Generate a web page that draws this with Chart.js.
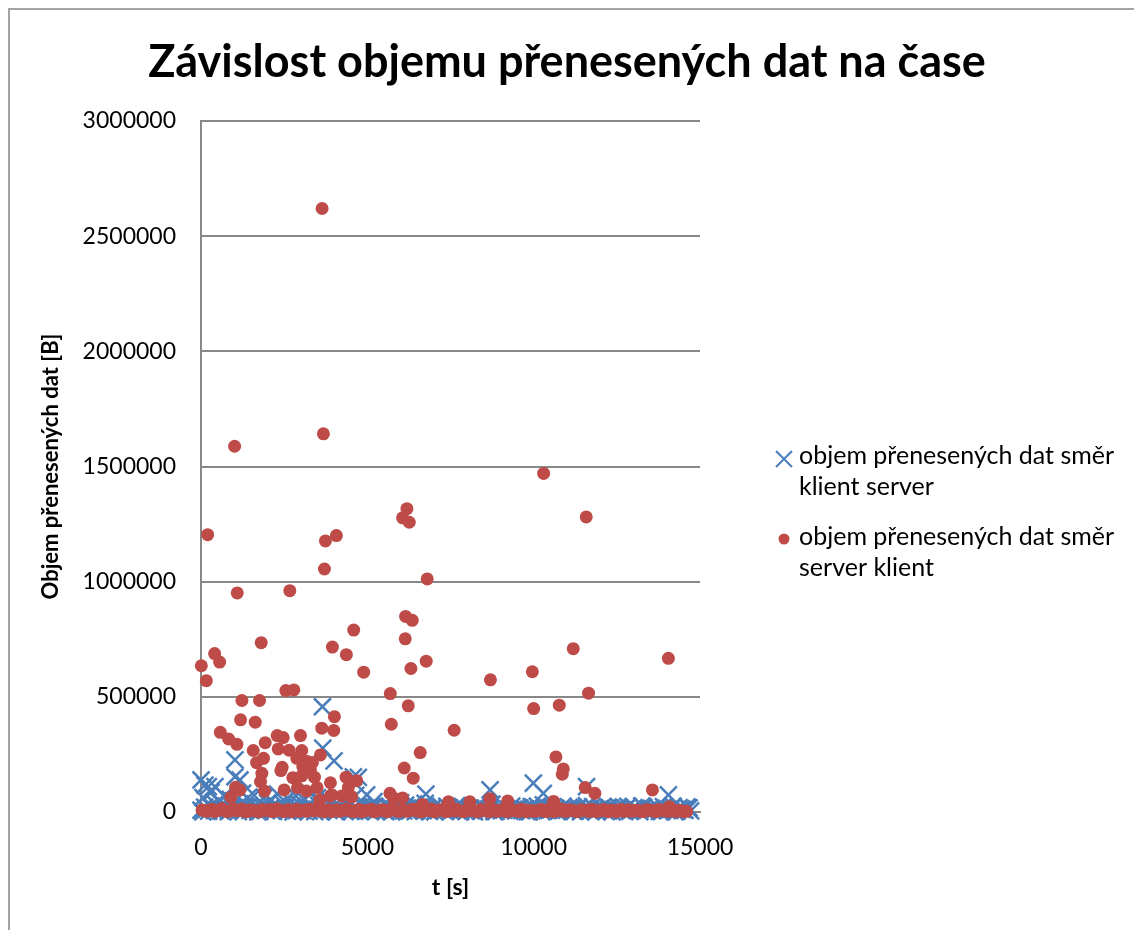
<!DOCTYPE html>
<html>
<head>
<meta charset="utf-8">
<title>Závislost objemu přenesených dat na čase</title>
<script src="https://cdn.jsdelivr.net/npm/chart.js@4.4.0/dist/chart.umd.min.js"></script>
<style>
  html, body { margin: 0; padding: 0; background: #fff; overflow: hidden; }
  #ramecek { position: absolute; left: 8px; top: 8px; width: 1140px; height: 940px;
             border-left: 2px solid #a3a3a3; border-top: 2px solid #a3a3a3; }
  #graf { position: absolute; left: 0; top: 0; }
</style>
</head>
<body>
<div id="ramecek"></div>
<canvas id="graf" width="1134" height="930"></canvas>
<script>
// popisky
const nadpis = 'Závislost objemu přenesených dat na čase';
const osaX = 't [s]';
const osaY = 'Objem přenesených dat [B]';
const nazvySerii = ['objem přenesených dat směr klient server', 'objem přenesených dat směr server klient'];
const legendaRadky = [['objem přenesených dat směr', 'klient server'], ['objem přenesených dat směr', 'server klient']];
const xPopisky = ['0', '5000', '10000', '15000'];
const yPopisky = ['0', '500000', '1000000', '1500000', '2000000', '2500000', '3000000'];

// klient -> server: vyssi hodnoty [t, B]
const klientServerVyssi = [
  [3650,457000],[3660,277000],[1020,226000],[4000,222000],[1020,153000],[4580,153000],[4730,150000],
  [0,139000],[1170,139000],[120,117000],[220,110000],[420,110000],[4980,74000],[6760,78000],
  [8690,96000],[9990,125000],[10290,81000],[11590,110000],[14050,74000],
  [60,62000],[300,85000],[520,48000],[700,70000],[880,55000],[1250,82000],[1400,60000],[1600,72000],
  [1900,65000],[2100,52000],[2300,78000],[2600,60000],[2850,70000],[3100,55000],[3300,80000],
  [3500,62000],[3800,58000],[4100,66000],[4400,50000],[4650,72000],[5200,45000],[6000,40000],[6400,35000]
];
// klient -> server: hodnoty u nuly
const klientServerPas = [
  [0,8000],[110,21000],[230,4000],[350,15000],[460,30000],[580,6000],[700,18000],[820,2000],[940,26000],
  [1060,11000],[1180,35000],[1290,5000],[1410,19000],[1530,9000],[1650,28000],[1770,3000],[1890,16000],
  [2000,40000],[2120,7000],[2240,22000],[2360,12000],[2480,33000],[2600,4000],[2710,20000],[2830,10000],
  [2950,36000],[3070,6000],[3190,24000],[3310,14000],[3420,2000],[3540,29000],[3660,9000],[3780,18000],
  [3900,42000],[4020,5000],[4130,23000],[4250,13000],[4370,31000],[4490,3000],[4610,19000],[4730,8000],
  [4840,27000],[4960,12000],[5080,4000],[5200,21000],[5320,9000],[5440,15000],[5550,2000],[5670,25000],
  [5790,7000],[5910,17000],[6030,11000],[6150,30000],[6260,4000],[6380,20000],[6500,8000],[6620,14000],
  [6740,38000],[6860,3000],[6970,18000],[7090,10000],[7210,24000],[7330,5000],[7450,15000],[7570,9000],
  [7680,28000],[7800,2000],[7920,19000],[8040,12000],[8160,6000],[8280,22000],[8390,4000],[8510,16000],
  [8630,10000],[8750,34000],[8870,3000],[8990,20000],[9100,8000],[9220,13000],[9340,26000],[9460,5000],
  [9580,17000],[9700,11000],[9810,2000],[9930,23000],[10050,9000],[10170,15000],[10290,31000],[10410,6000],
  [10520,19000],[10640,12000],[10760,4000],[10880,25000],[11000,8000],[11120,16000],[11230,3000],
  [11350,21000],[11470,10000],[11590,28000],[11710,5000],[11830,14000],[11940,9000],[12060,20000],
  [12180,2000],[12300,17000],[12420,11000],[12540,24000],[12650,6000],[12770,15000],[12890,3000],
  [13010,19000],[13130,9000],[13250,27000],[13360,5000],[13480,13000],[13600,8000],[13720,22000],
  [13840,2000],[13960,16000],[14070,10000],[14190,25000],[14310,4000],[14430,14000],[14550,7000],[14670,18000]
];
const klientServerPas2 = [
  [55,1000],[170,13000],[290,24000],[405,6000],[520,17000],[640,3000],[760,25000],[880,10000],[1000,19000],
  [1120,2000],[1235,14000],[1350,23000],[1470,7000],[1590,16000],[1710,1000],[1830,21000],[1945,9000],
  [2060,15000],[2180,3000],[2300,26000],[2420,6000],[2540,18000],[2655,11000],[2770,1000],[2890,22000],
  [3010,8000],[3130,16000],[3250,4000],[3365,20000],[3480,12000],[3600,2000],[3720,24000],[3840,7000],
  [3960,15000],[4075,1000],[4190,19000],[4310,9000],[4430,22000],[4550,5000],[4670,14000],[4785,2000],
  [4900,18000],[5020,10000],[5140,24000],[5260,3000],[5380,16000],[5495,7000],[5610,20000],[5730,1000],
  [5850,12000],[5970,23000],[6090,5000],[6205,17000],[6320,9000],[6440,2000],[6560,21000],[6680,6000],
  [6800,14000],[6915,11000],[7030,1000],[7150,19000],[7270,8000],[7390,24000],[7510,3000],[7625,15000],
  [7740,10000],[7860,22000],[7980,4000],[8100,17000],[8220,1000],[8335,13000],[8450,20000],[8570,6000],
  [8690,15000],[8810,2000],[8930,23000],[9045,9000],[9160,18000],[9280,3000],[9400,12000],[9520,21000],
  [9640,6000],[9755,14000],[9870,1000],[9990,17000],[10110,25000],[10230,4000],[10350,13000],[10465,8000],
  [10580,22000],[10700,2000],[10820,16000],[10940,11000],[11060,20000],[11175,5000],[11290,13000],
  [11410,1000],[11530,18000],[11650,9000],[11770,23000],[11885,3000],[12000,15000],[12120,7000],
  [12240,21000],[12360,1000],[12480,12000],[12595,18000],[12710,5000],[12830,24000],[12950,9000],
  [13070,14000],[13190,2000],[13305,20000],[13420,7000],[13540,16000],[13660,11000],[13780,3000],
  [13900,23000],[14015,6000],[14130,15000],[14250,1000],[14370,19000],[14490,10000],[14610,22000],[14720,5000]
];

// server -> klient: vyssi hodnoty [t, B]
const serverKlientVyssi = [
  [3640,2620000],[1010,1588000],[3680,1642000],[10300,1470000],[11580,1281000],[200,1204000],[3740,1177000],
  [4070,1200000],[3710,1055000],[6190,1317000],[6060,1277000],[6260,1258000],[6800,1012000],[1090,951000],
  [2670,961000],[6150,849000],[6350,832000],[4590,790000],[6140,752000],[1810,735000],[3950,716000],
  [4370,683000],[410,688000],[560,651000],[10,635000],[6770,655000],[6310,623000],[4890,607000],[160,570000],
  [2550,527000],[2790,530000],[5690,514000],[1230,484000],[1760,484000],[8700,574000],[9960,609000],
  [11190,709000],[14050,667000],[11650,516000],
  [1190,400000],[1630,390000],[580,346000],[830,317000],[1080,294000],[1930,301000],[2290,332000],
  [2470,323000],[2990,332000],[2320,274000],[1570,267000],[2650,268000],[3030,267000],[1880,233000],
  [1670,214000],[2440,194000],[2400,180000],[2880,233000],[3190,219000],[3350,215000],[3590,248000],
  [3060,197000],[3290,183000],[1830,168000],[2760,149000],[3030,157000],[3410,151000],[1790,132000],
  [2900,106000],[3490,106000],[1910,91000],[1040,107000],[900,64000],[1170,96000],[2500,96000],[3170,91000],
  [3630,364000],[4010,414000],[3990,354000],[3890,127000],[4360,151000],[4680,136000],[4430,107000],
  [3930,74000],[3890,70000],[4230,70000],[4530,66000],[3570,52000],[6230,461000],[5720,381000],[6590,258000],
  [6110,191000],[6380,147000],[5680,81000],[5800,60000],[6060,61000],[6660,33000],[7610,355000],[7440,45000],
  [10000,449000],[10770,464000],[10670,239000],[10890,187000],[10860,164000],[11550,106000],[11840,81000],
  [13570,96000],[8080,45000],[8680,58000],[9220,48000],[10600,46000],[14080,23000]
];
// server -> klient: hodnoty u nuly
const serverKlientPas = [
  [30,9000],[180,3000],[330,12000],[480,6000],[630,15000],[780,2000],[930,10000],[1080,5000],[1230,13000],
  [1380,1000],[1530,8000],[1680,4000],[1830,11000],[1980,7000],[2130,2000],[2280,14000],[2430,5000],
  [2580,9000],[2730,1000],[2880,12000],[3030,6000],[3180,3000],[3330,10000],[3480,15000],[3630,4000],
  [3780,8000],[3930,2000],[4080,11000],[4230,6000],[4380,13000],[4530,3000],[4680,9000],[4830,1000],
  [4980,7000],[5130,12000],[5280,4000],[5430,10000],[5580,2000],[5730,14000],[5880,6000],[6030,9000],
  [6180,3000],[6330,11000],[6480,5000],[6630,1000],[6780,8000],[6930,13000],[7080,4000],[7230,10000],
  [7380,2000],[7530,7000],[7680,12000],[7830,3000],[7980,9000],[8130,6000],[8280,1000],[8430,11000],
  [8580,5000],[8730,14000],[8880,3000],[9030,8000],[9180,2000],[9330,10000],[9480,6000],[9630,12000],
  [9780,1000],[9930,7000],[10080,4000],[10230,11000],[10380,2000],[10530,9000],[10680,5000],[10830,13000],
  [10980,3000],[11130,8000],[11280,1000],[11430,10000],[11580,6000],[11730,12000],[11880,2000],[12030,7000],
  [12180,4000],[12330,9000],[12480,1000],[12630,11000],[12780,5000],[12930,3000],[13080,8000],[13230,2000],
  [13380,10000],[13530,6000],[13680,1000],[13830,7000],[13980,4000],[14130,9000],[14280,2000],[14430,6000],
  [14600,3000]
];
const serverKlientPas2 = [
  [105,5000],[255,8000],[405,2000],[555,10000],[705,6000],[855,4000],[1005,12000],[1155,7000],[1305,3000],
  [1455,9000],[1605,5000],[1755,1000],[1905,8000],[2055,11000],[2205,4000],[2355,7000],[2505,2000],
  [2655,10000],[2805,6000],[2955,3000],[3105,9000],[3255,12000],[3405,5000],[3555,8000],[3705,1000],
  [3855,10000],[4005,6000],[4155,3000],[4305,9000],[4455,7000],[4605,2000],[4755,11000],[4905,5000],
  [5055,8000],[5205,1000],[5355,6000],[5505,9000],[5655,4000],[5805,10000],[5955,2000],[6105,7000],
  [6255,5000],[6405,12000],[6555,3000],[6705,8000],[6855,6000],[7005,1000],[7155,9000],[7305,4000],
  [7455,11000],[7605,5000],[7755,7000],[7905,2000],[8055,10000],[8205,6000],[8355,3000],[8505,8000],
  [8655,1000],[8805,9000],[8955,5000],[9105,11000],[9255,4000],[9405,7000],[9555,2000],[9705,9000],
  [9855,6000],[10005,3000],[10155,8000],[10305,5000],[10455,12000],[10605,1000],[10755,7000],[10905,4000],
  [11055,10000],[11205,6000],[11355,3000],[11505,8000],[11655,2000],[11805,9000],[11955,5000],[12105,11000],
  [12255,1000],[12405,6000],[12555,8000],[12705,3000],[12855,10000],[13005,5000],[13155,7000],[13305,2000],
  [13455,9000],[13605,4000],[13755,11000],[13905,6000],[14055,3000],[14205,8000],[14355,5000],[14505,1000]
];

const modra = '#4a7ebb';
const cervena = '#be4b48';
const pismo = 'Lato, "Open Sans", sans-serif';
const body = arr => arr.map(([x, y]) => ({ x: x, y: y }));

// legenda vpravo, text na vice radku
const legendaVpravo = {
  id: 'legendaVpravo',
  afterDraw(chart) {
    const ctx = chart.ctx;
    ctx.save();
    chart.data.datasets.forEach((ds, i) => {
      const yz = 459 + i * 80;
      ctx.strokeStyle = ds.borderColor;
      ctx.fillStyle = ds.backgroundColor;
      ctx.lineWidth = 2;
      if (ds.pointStyle === 'crossRot') {
        ctx.beginPath();
        ctx.moveTo(776, yz - 8); ctx.lineTo(792, yz + 8);
        ctx.moveTo(792, yz - 8); ctx.lineTo(776, yz + 8);
        ctx.stroke();
      } else {
        ctx.beginPath();
        ctx.arc(784, yz, 5.5, 0, Math.PI * 2);
        ctx.fill();
      }
      ctx.fillStyle = '#000';
      ctx.font = '25px ' + pismo;
      ctx.textBaseline = 'alphabetic';
      ctx.textAlign = 'left';
      legendaRadky[i].forEach((r, j) => ctx.fillText(r, 799, 464 + i * 81 + j * 31));
    });
    ctx.restore();
  }
};

new Chart(document.getElementById('graf').getContext('2d'), {
  type: 'scatter',
  data: {
    datasets: [
      {
        label: nazvySerii[0],
        data: body(klientServerVyssi.concat(klientServerPas, klientServerPas2)),
        pointStyle: 'crossRot',
        pointRadius: 12,
        pointBorderWidth: 2.5,
        borderColor: modra,
        backgroundColor: modra,
        clip: false,
        order: 1
      },
      {
        label: nazvySerii[1],
        data: body(serverKlientPas.concat(serverKlientPas2, serverKlientVyssi)),
        pointStyle: 'circle',
        pointRadius: 6.5,
        pointBorderWidth: 0,
        borderColor: cervena,
        backgroundColor: cervena,
        clip: false,
        order: 0
      }
    ]
  },
  options: {
    responsive: false,
    animation: false,
    layout: { padding: 0 },
    plugins: {
      legend: { display: false },
      tooltip: { enabled: false },
      title: {
        display: true,
        text: nadpis,
        color: '#000',
        font: { family: pismo, size: 45, weight: 'bold' },
        padding: { top: 35, bottom: 32 }
      }
    },
    scales: {
      x: {
        type: 'linear',
        min: 0, max: 15000,
        ticks: { stepSize: 5000, padding: 22, color: '#000', font: { family: pismo, size: 23 },
                 callback: (v, i) => xPopisky[i] },
        grid: { drawOnChartArea: false, drawTicks: false },
        border: { color: '#888', width: 2 },
        title: { display: true, text: osaX, color: '#000', font: { family: pismo, size: 23, weight: 'bold' },
                 padding: { top: 0, bottom: 29 } },
        afterFit: s => { s.height = 118; }
      },
      y: {
        type: 'linear',
        min: 0, max: 3000000,
        ticks: { stepSize: 500000, padding: 25, color: '#000', font: { family: pismo, size: 23 },
                 callback: (v, i) => yPopisky[i] },
        grid: { color: '#888', lineWidth: 2, drawTicks: false },
        border: { color: '#888', width: 2 },
        title: { display: true, text: osaY, color: '#000', font: { family: pismo, size: 22, weight: 'bold' },
                 padding: { top: 38, bottom: 0 } },
        afterFit: s => { s.width = 201; }
      },
      misto: {
        // prazdna osa vpravo drzi misto pro legendu
        type: 'linear',
        position: 'right',
        display: true,
        grid: { display: false, drawTicks: false },
        border: { display: false },
        ticks: { display: false },
        afterFit: s => { s.width = 434; }
      }
    }
  },
  plugins: [legendaVpravo]
});
</script>
</body>
</html>
